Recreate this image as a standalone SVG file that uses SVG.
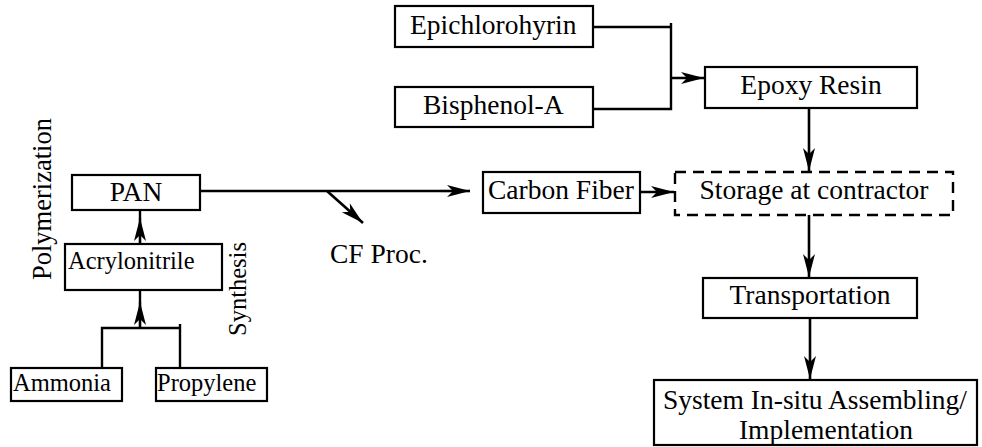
<svg xmlns="http://www.w3.org/2000/svg" width="982" height="447" viewBox="0 0 982 447">
<defs>
<marker id="ah" markerUnits="userSpaceOnUse" markerWidth="30" markerHeight="16" viewBox="-24 -8 26 16" refX="0" refY="0" orient="auto">
<path d="M-23,-6 L0,0 L-23,6 L-17,0 Z" fill="#000"/>
</marker>
<style>
.box{fill:#fff;stroke:#000;stroke-width:2.2}
.dash{fill:#fff;stroke:#000;stroke-width:2.4;stroke-dasharray:11,7}
.t{font-family:"Liberation Serif","Times New Roman",serif;font-size:27.5px;fill:#000}
.s{font-family:"Liberation Serif","Times New Roman",serif;font-size:24.5px;fill:#000}
.c{text-anchor:middle}
.ln{fill:none;stroke:#000;stroke-width:2.4}
.ar{fill:none;stroke:#000;stroke-width:2.6;marker-end:url(#ah)}
</style>
</defs>
<g id="connectors">
<polyline class="ln" points="593,27 671,27"/>
<polyline class="ln" points="671,23 671,109 593,109"/>
<line class="ar" x1="671" y1="78" x2="704" y2="78"/>
<line class="ar" x1="809" y1="108" x2="809" y2="171"/>
<line class="ln" x1="200" y1="191" x2="440" y2="191"/>
<line class="ar" x1="440" y1="191" x2="470" y2="191"/>
<line class="ar" x1="327" y1="191" x2="363" y2="223"/>
<line class="ar" x1="640" y1="192" x2="674" y2="192"/>
<line class="ar" x1="809" y1="215" x2="809" y2="277"/>
<line class="ar" x1="810" y1="318" x2="810" y2="379"/>
<line class="ln" x1="140" y1="218" x2="140" y2="210"/>
<line class="ar" x1="140" y1="244" x2="140" y2="218"/>
<line class="ln" x1="140" y1="302" x2="140" y2="290"/>
<line class="ar" x1="140" y1="328" x2="140" y2="302"/>
<polyline class="ln" points="102,368 102,328 180,328"/>
<line class="ln" x1="180" y1="324" x2="180" y2="368"/>
</g>
<g id="epichlorohyrin">
<rect class="box" x="395" y="6" width="198" height="41"/>
<text class="t" x="410" y="34">Epichlorohyrin</text>
</g>
<g id="bisphenol">
<rect class="box" x="395" y="87" width="198" height="40"/>
<text class="t" x="423" y="114">Bisphenol-A</text>
</g>
<g id="epoxy">
<rect class="box" x="705" y="67" width="212" height="41"/>
<text class="t c" x="811" y="94">Epoxy Resin</text>
</g>
<g id="pan">
<rect class="box" x="72" y="175" width="128" height="35"/>
<text class="t c" x="136" y="201">PAN</text>
</g>
<g id="acrylonitrile">
<rect class="box" x="65" y="244" width="157" height="46"/>
<text class="s" x="68" y="269">Acrylonitrile</text>
</g>
<g id="ammonia">
<rect class="box" x="11" y="368" width="111" height="33"/>
<text class="s" x="13" y="391">Ammonia</text>
</g>
<g id="propylene">
<rect class="box" x="156" y="368" width="111" height="33"/>
<text class="s" x="157" y="391">Propylene</text>
</g>
<g id="carbonfiber">
<rect class="box" x="483" y="172" width="157" height="41"/>
<text class="t" x="488" y="199">Carbon Fiber</text>
</g>
<g id="storage">
<rect class="dash" x="675" y="172" width="278" height="43"/>
<text class="t c" x="814" y="199">Storage at contractor</text>
</g>
<g id="transportation">
<rect class="box" x="703" y="278" width="214" height="40"/>
<text class="t c" x="810" y="304">Transportation</text>
</g>
<g id="system">
<rect class="box" x="654" y="380" width="323" height="65"/>
<text class="t c" x="815" y="409">System In-situ Assembling/</text>
<text class="t c" x="826" y="439">Implementation</text>
</g>
<g id="labels">
<text class="t" x="330" y="263">CF Proc.</text>
<text class="t" transform="translate(51,280) rotate(-90)" style="font-size:26.5px">Polymerization</text>
<text class="s" transform="translate(246,336) rotate(-90)">Synthesis</text>
</g>
</svg>
